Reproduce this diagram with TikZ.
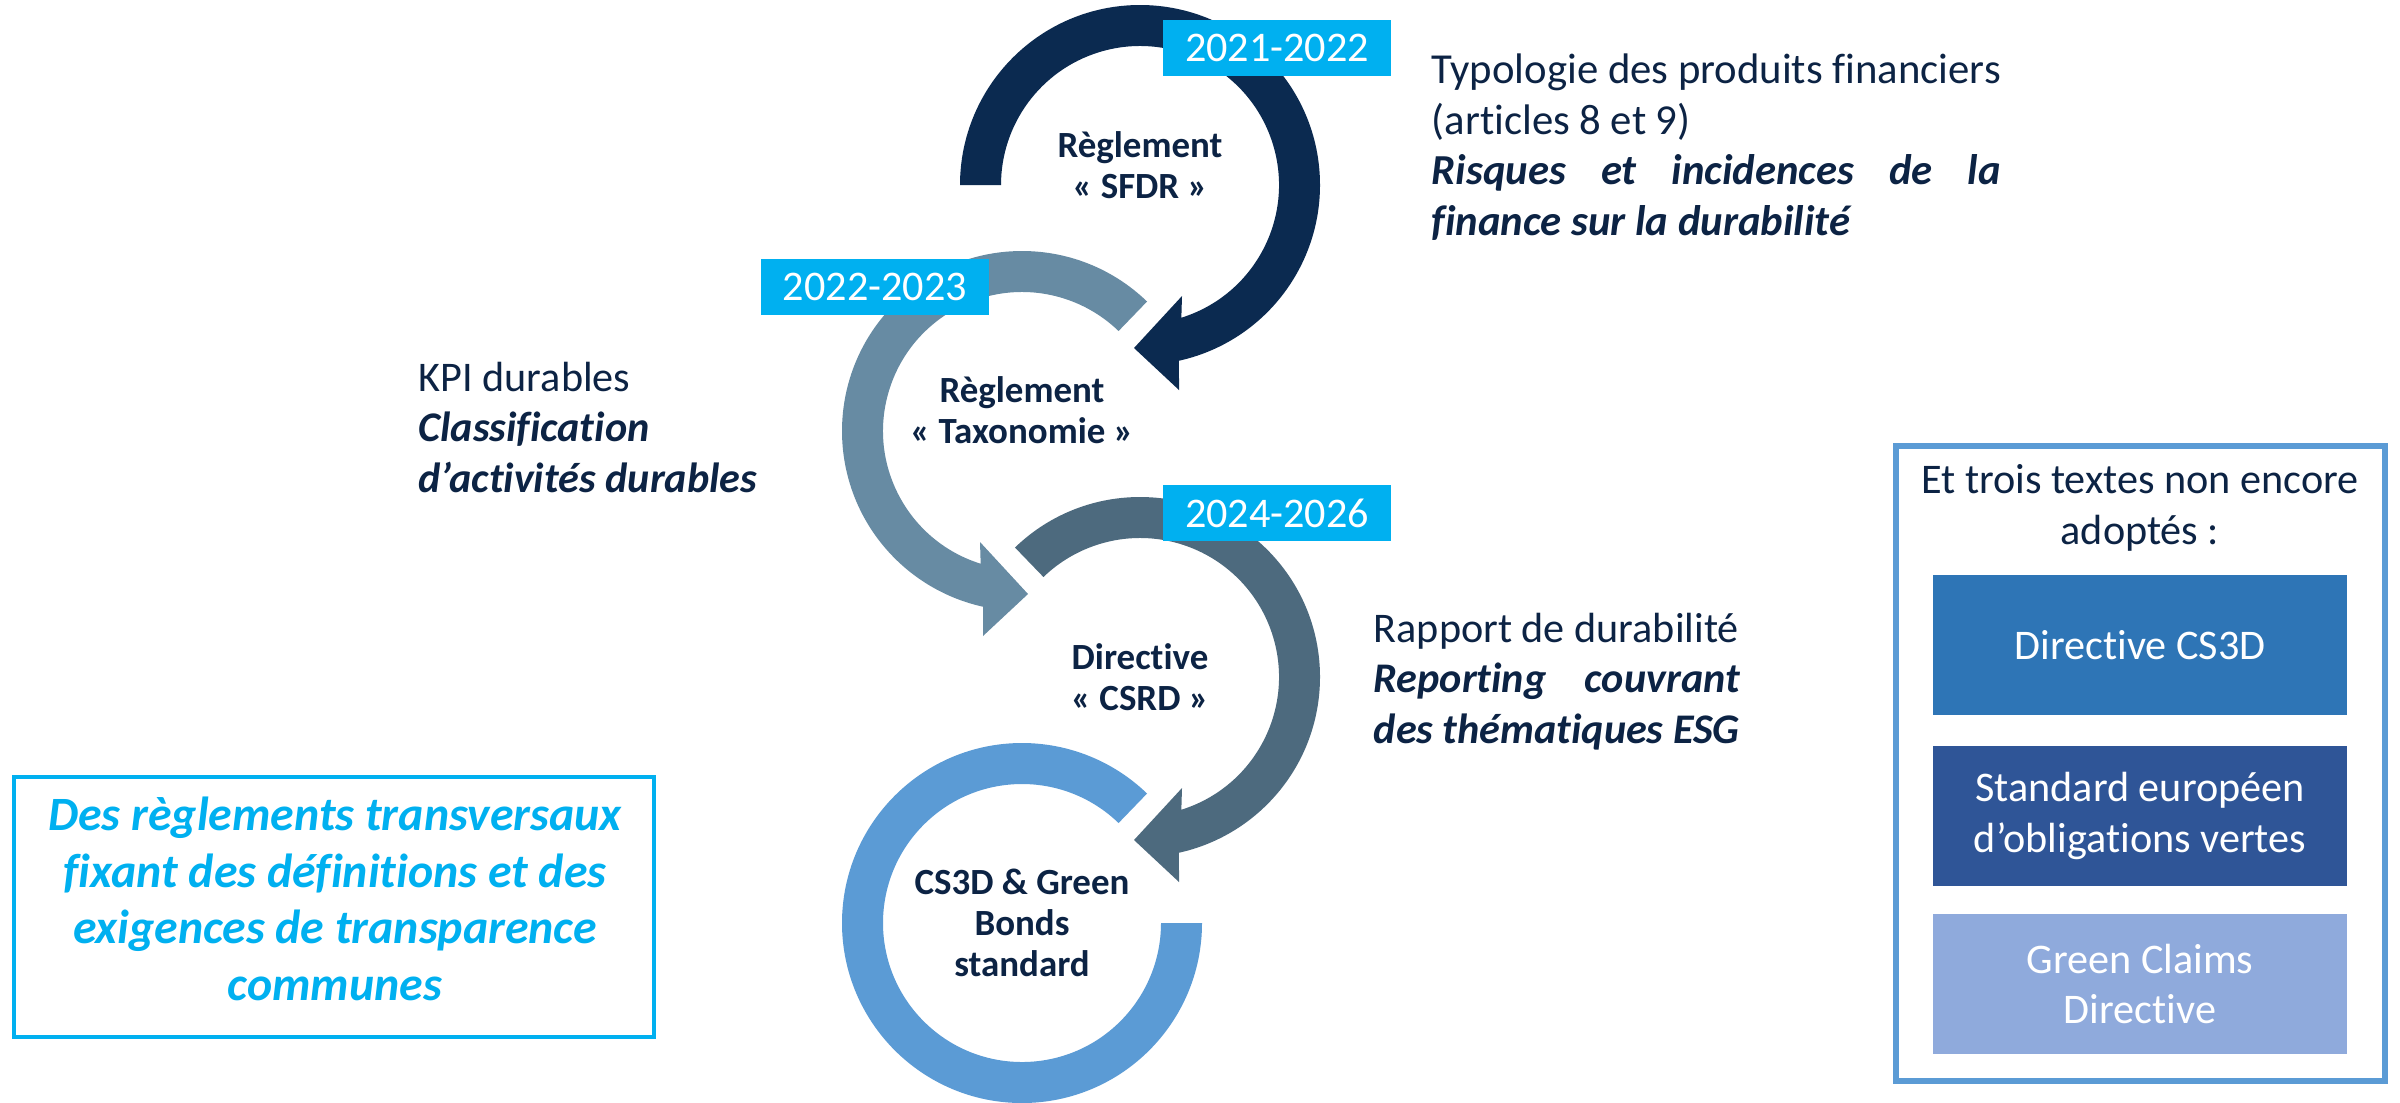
\documentclass[tikz,border=0pt]{standalone}
\usepackage{fontspec}
\setmainfont{Carlito}[Ligatures=NoCommon]
\usetikzlibrary{calc}
\definecolor{navy}{HTML}{0B2A50}
\definecolor{txtnavy}{HTML}{0C2344}
\definecolor{ringtwo}{HTML}{678BA3}
\definecolor{ringthree}{HTML}{4D6A7E}
\definecolor{ringfour}{HTML}{5B9BD5}
\definecolor{datecol}{HTML}{00B0F0}
\definecolor{boxA}{HTML}{2E75B6}
\definecolor{boxB}{HTML}{2F5597}
\definecolor{boxC}{HTML}{8FAADC}
\newlength\typw
\newlength\repw
\begin{document}
\settowidth{\typw}{\fontsize{12.15}{14.4}\selectfont Typologie des produits financiers}%
\settowidth{\repw}{\fontsize{12}{14.4}\selectfont\bfseries\itshape des thématiques ESG}%
\begin{tikzpicture}[x=0.01cm,y=-0.01cm,
  datebox/.style={fill=datecol, text=white, minimum width=2.28cm, minimum height=0.56cm, inner sep=0pt, font=\fontsize{12}{14.4}\selectfont},
  ringlabel/.style={text=txtnavy, align=center, inner sep=0pt, font=\fontsize{10.5}{11.6}\selectfont\bfseries},
  sidetext/.style={text=txtnavy, inner sep=0pt, anchor=north west, align=left, font=\fontsize{12}{14.4}\selectfont},
  lefttext/.style={text=datecol, align=center, inner sep=0pt, font=\fontsize{13.6}{16.1}\selectfont\bfseries\itshape},
  leftbox/.style={draw=datecol, line width=1.4pt},
  rightbox/.style={draw=ringfour, line width=1.7pt},
  headtext/.style={text=txtnavy, align=center, inner sep=0pt, font=\fontsize{12}{14.4}\selectfont},
  inbox/.style={text=white, align=center, minimum width=4.14cm, minimum height=1.39cm, inner sep=0pt, font=\fontsize{12}{14.4}\selectfont}
]
\useasboundingbox (0,0) rectangle (2400,1102);
\fill[white] (0,0) rectangle (2400,1102);
\coordinate (c1) at (1140,185);
\coordinate (c2) at (1022,431);
\coordinate (c3) at (1140,677);
\coordinate (c4) at (1022,923);

% ring 1 (SFDR)
\fill[navy] ($(c1)+(180:180)$) arc[start angle=180,end angle=437.5,radius=180]
  -- ($(c1)+(39,205)$) -- ($(c1)+(-6,163)$) -- ($(c1)+(42,111)$)
  -- ($(c1)+(432.7:139)$) arc[start angle=432.7,end angle=180,radius=139] -- cycle;
% ring 2 (Taxonomie)
\fill[ringtwo] ($(c2)+(-46:180)$) arc[start angle=-46,end angle=-257.5,radius=180]
  -- ($(c2)+(-39,205)$) -- ($(c2)+(6,163)$) -- ($(c2)+(-42,111)$)
  -- ($(c2)+(-252.7:139)$) arc[start angle=-252.7,end angle=-46,radius=139] -- cycle;
% ring 3 (CSRD)
\fill[ringthree] ($(c3)+(226:180)$) arc[start angle=226,end angle=437.5,radius=180]
  -- ($(c3)+(39,205)$) -- ($(c3)+(-6,163)$) -- ($(c3)+(42,111)$)
  -- ($(c3)+(432.7:139)$) arc[start angle=432.7,end angle=226,radius=139] -- cycle;
% ring 4 (CS3D)
\fill[ringfour] ($(c4)+(0:180)$) arc[start angle=0,end angle=314,radius=180]
  -- ($(c4)+(314:139)$) arc[start angle=314,end angle=0,radius=139] -- cycle;

% date boxes
\node[datebox] (d1) at (1277,48) {2021-2022};
\node[datebox] (d2) at (875,287) {2022-2023};
\node[datebox] (d3) at (1277,513) {2024-2026};

% ring labels
\node[ringlabel] (l1) at (1140,165) {Règlement\\«~SFDR~»};
\node[ringlabel] (l2) at (1022,410) {Règlement\\«~Taxonomie~»};
\node[ringlabel] (l3) at (1140,677) {Directive\\«~CSRD~»};
\node[ringlabel] (l4) at (1022,923) {CS3D \& Green\\Bonds\\standard};

% side texts
\node[sidetext, font=\fontsize{12.15}{14.4}\selectfont] (t1) at (1431,53) {Typologie des produits financiers\\(articles 8 et 9)\\\makebox[\typw][l]{\bfseries\itshape Risques\hfill et\hfill incidences\hfill de\hfill la}\\{\bfseries\itshape finance sur la durabilité}};
\node[sidetext] (t2) at (418,361) {KPI durables\\{\bfseries\itshape Classification}\\{\bfseries\itshape d’activités durables}};
\node[sidetext] (t3) at (1373,612) {Rapport de durabilité\\\makebox[\repw][l]{\bfseries\itshape Reporting\hfill couvrant}\\{\bfseries\itshape des thématiques ESG}};

% left box
\draw[leftbox] (14,777) rectangle (654,1037);
\node[lefttext] (lt) at (335,899) {Des règlements transversaux\\fixant des définitions et des\\exigences de transparence\\communes};

% right box
\draw[rightbox] (1896,446) rectangle (2385,1081);
\node[headtext] (rh) at (2140,508) {Et trois textes non encore\\adoptés~:};
\node[inbox, fill=boxA] (ba) at (2140,645) {Directive CS3D};
\node[inbox, fill=boxB] (bb) at (2140,816) {Standard européen\\d’obligations vertes};
\node[inbox, fill=boxC] (bc) at (2140,984) {Green Claims\\Directive};
\end{tikzpicture}
\end{document}
